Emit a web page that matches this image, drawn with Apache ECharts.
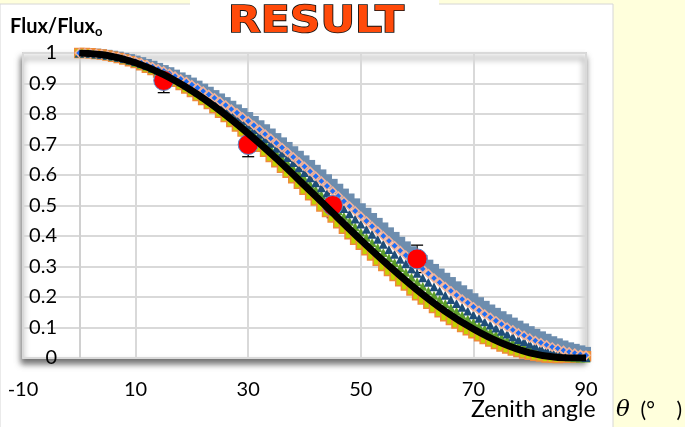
<!DOCTYPE html>
<html><head><meta charset="utf-8">
<script src="https://cdn.jsdelivr.net/npm/echarts@6/dist/echarts.min.js"></script>
<style>html,body{margin:0;padding:0;background:#FFFFDC;}#c{width:685px;height:427px;}</style>
</head><body><div id="c"></div>
<script>
const zenith = [0,1,2,3,4,5,6,7,8,9,10,11,12,13,14,15,16,17,18,19,20,21,22,23,24,25,26,27,28,29,30,31,32,33,34,35,36,37,38,39,40,41,42,43,44,45,46,47,48,49,50,51,52,53,54,55,56,57,58,59,60,61,62,63,64,65,66,67,68,69,70,71,72,73,74,75,76,77,78,79,80,81,82,83,84,85,86,87,88,89,90];
const modelGray = [1.000,1.000,0.999,0.998,0.996,0.994,0.991,0.988,0.984,0.980,
0.975,0.970,0.964,0.958,0.951,0.944,0.937,0.929,0.920,0.912,
0.903,0.893,0.883,0.873,0.862,0.851,0.839,0.827,0.815,0.803,
0.790,0.777,0.763,0.750,0.736,0.721,0.707,0.692,0.678,0.663,
0.648,0.633,0.617,0.602,0.586,0.571,0.555,0.539,0.523,0.507,
0.491,0.476,0.459,0.443,0.428,0.412,0.397,0.381,0.366,0.350,
0.336,0.321,0.306,0.292,0.277,0.263,0.249,0.235,0.222,0.209,
0.196,0.183,0.171,0.159,0.148,0.137,0.127,0.116,0.106,0.097,
0.088,0.079,0.071,0.063,0.055,0.048,0.041,0.035,0.030,0.025,0.020];
const modelBlue = [1.000,1.000,0.999,0.998,0.996,0.993,0.990,0.987,0.983,0.978,
0.973,0.968,0.962,0.955,0.948,0.941,0.933,0.924,0.915,0.906,
0.896,0.886,0.875,0.864,0.853,0.841,0.829,0.816,0.804,0.790,
0.777,0.763,0.749,0.734,0.720,0.705,0.690,0.674,0.659,0.643,
0.628,0.612,0.596,0.580,0.564,0.547,0.531,0.514,0.498,0.482,
0.465,0.449,0.432,0.416,0.400,0.384,0.368,0.352,0.337,0.322,
0.306,0.292,0.277,0.262,0.248,0.234,0.220,0.206,0.193,0.181,
0.168,0.156,0.144,0.133,0.122,0.111,0.101,0.092,0.082,0.074,
0.065,0.057,0.050,0.043,0.036,0.031,0.025,0.020,0.016,0.012,0.009];
const modelNavy = [1.000,1.000,0.999,0.997,0.995,0.993,0.990,0.986,0.982,0.977,
0.972,0.966,0.959,0.952,0.945,0.937,0.928,0.919,0.910,0.900,
0.890,0.879,0.868,0.856,0.844,0.832,0.819,0.806,0.792,0.778,
0.764,0.749,0.734,0.719,0.704,0.688,0.672,0.657,0.641,0.624,
0.608,0.591,0.575,0.558,0.541,0.524,0.507,0.490,0.473,0.456,
0.439,0.422,0.406,0.389,0.373,0.356,0.340,0.324,0.309,0.293,
0.278,0.263,0.248,0.234,0.220,0.206,0.192,0.179,0.166,0.154,
0.142,0.130,0.119,0.108,0.098,0.088,0.079,0.070,0.061,0.054,
0.046,0.039,0.033,0.027,0.022,0.017,0.013,0.010,0.007,0.004,0.002];
const modelGreen = [1.000,1.000,0.999,0.997,0.995,0.992,0.989,0.985,0.981,0.976,
0.970,0.964,0.957,0.949,0.942,0.933,0.924,0.915,0.905,0.894,
0.883,0.872,0.860,0.847,0.835,0.821,0.808,0.794,0.780,0.765,
0.750,0.735,0.719,0.703,0.687,0.671,0.655,0.638,0.621,0.604,
0.587,0.570,0.552,0.535,0.517,0.500,0.483,0.465,0.448,0.430,
0.413,0.396,0.379,0.362,0.346,0.329,0.313,0.297,0.281,0.265,
0.250,0.235,0.220,0.206,0.192,0.179,0.165,0.153,0.140,0.128,
0.117,0.106,0.096,0.086,0.076,0.067,0.059,0.051,0.043,0.036,
0.030,0.025,0.019,0.015,0.011,0.008,0.005,0.003,0.001,0.000,0.000];
const modelYellow = [1.000,1.000,0.999,0.997,0.995,0.992,0.988,0.984,0.979,0.973,
0.967,0.960,0.952,0.944,0.936,0.926,0.917,0.906,0.895,0.884,
0.872,0.859,0.846,0.833,0.819,0.804,0.790,0.774,0.759,0.743,
0.727,0.710,0.693,0.676,0.659,0.642,0.624,0.607,0.589,0.571,
0.552,0.534,0.516,0.497,0.479,0.461,0.442,0.424,0.406,0.388,
0.371,0.353,0.336,0.319,0.302,0.285,0.269,0.252,0.238,0.221,
0.206,0.192,0.178,0.164,0.150,0.137,0.125,0.113,0.102,0.091,
0.081,0.071,0.062,0.054,0.046,0.038,0.031,0.025,0.020,0.015,
0.011,0.007,0.005,0.002,0.001,0.000,0.001,0.001,0.002,0.004,0.006];
const curveAngles = [0,5,10,15,20,25,30,35,40,45,50,55,60,65,70,75,80,85,90];
const curveFlux = [1.0,0.992,0.968,0.929,0.876,0.811,0.736,0.654,0.566,0.476,0.387,0.302,0.223,0.153,0.095,0.049,0.017,0.002,0.0];
const measAngles = [15,30,45,60];
const measFlux = [0.91,0.70,0.50,0.325];
const measErr = [0.04,0.04,0.04,0.045];

const pair = (xs, ys) => xs.map((x, i) => [x, ys[i]]);
const LBL = 'Lato, "Liberation Sans", sans-serif';

const chart = echarts.init(document.getElementById('c'), null, {renderer: 'canvas'});
function marker(name, data, symbol, size, color, border, bw) {
  return {type: 'scatter', name, z: 3, data: pair(zenith, data), symbol, symbolSize: size, silent: true, clip: false,
    itemStyle: {color, borderColor: border || color, borderWidth: bw || 0, opacity: 1}};
}
const grayS = marker('gray', modelGray, 'rect', 10, '#6D8DAE');
grayS.markLine = {silent: true, symbol: 'none', label: {show: false}, z: 1,
  lineStyle: {color: '#d0d0d0', width: 2, type: 'solid'}, data: [{xAxis: 0}]};
chart.setOption({
  backgroundColor: '#FFFFDC',
  animation: false,
  graphic: [
    {type: 'rect', z: -10, shape: {x: 0, y: 4, width: 613, height: 430}, style: {fill: '#fff', stroke: '#d6d6d6', lineWidth: 1}},
    {type: 'rect', z: -9, shape: {x: 190, y: 0, width: 249, height: 6}, style: {fill: '#fff'}},
    {type: 'text', z: 10, x: 316, y: 22, scaleX: 1.12, scaleY: 1.0,
      style: {x: 0, y: 0, text: 'RESULT', font: 'bold 38px "DejaVu Sans"', fill: '#FF4A0A', stroke: '#111', lineWidth: 1.6, align: 'center', verticalAlign: 'middle'}},
    {type: 'text', z: 10, style: {x: 10, y: 27, text: '{a|Flux/Flux}{b|o}', verticalAlign: 'middle',
      rich: {a: {font: 'bold 20px ' + LBL, fill: '#000'}, b: {font: 'bold 13px ' + LBL, fill: '#000', padding: [9, 0, 0, 0]}}}},
    {type: 'text', z: 10, style: {x: 471, y: 410, text: 'Zenith angle', font: '23px ' + LBL, fill: '#000', verticalAlign: 'middle'}},
    {type: 'text', z: 10, style: {x: 616, y: 410, text: '{t|θ}{n|  (°    )}', verticalAlign: 'middle',
      rich: {t: {font: 'italic 23px "DejaVu Serif"', fill: '#000'}, n: {font: '21px ' + LBL, fill: '#000'}}}}
  ],
  grid: {left: 23, top: 53, width: 563, height: 305, containLabel: false, outerBoundsMode: 'none',
    show: true, backgroundColor: '#fff', borderColor: '#d4d4d4', borderWidth: 2,
    shadowColor: 'rgba(0,0,0,0.55)', shadowBlur: 6, shadowOffsetX: -1, shadowOffsetY: 5},
  xAxis: {type: 'value', min: -10, max: 90, interval: 20,
    axisLine: {show: false, onZero: false}, axisTick: {show: false},
    axisLabel: {margin: 22, fontSize: 20, color: '#000', fontFamily: LBL},
    splitLine: {show: true, lineStyle: {color: '#d9d9d9', width: 2}}},
  yAxis: {type: 'value', min: 0, max: 1, interval: 0.1,
    axisLine: {show: false, onZero: false}, axisTick: {show: false},
    axisLabel: {margin: -34, fontSize: 20, color: '#000', fontFamily: LBL},
    splitLine: {show: true, lineStyle: {color: '#d9d9d9', width: 2}}},
  series: [
    {type: 'custom', name: 'err', z: 2, silent: true,
      data: measAngles.map((a, i) => [a, measFlux[i], measErr[i]]),
      renderItem: function (params, api) {
        const x = api.value(0), y = api.value(1), e = api.value(2);
        const t = api.coord([x, y + e]), b = api.coord([x, y - e]);
        const hw = 6, st = {stroke: '#000', lineWidth: 1.3};
        return {type: 'group', children: [
          {type: 'line', shape: {x1: t[0], y1: t[1], x2: b[0], y2: b[1]}, style: st},
          {type: 'line', shape: {x1: t[0] - hw, y1: t[1], x2: t[0] + hw, y2: t[1]}, style: st},
          {type: 'line', shape: {x1: b[0] - hw, y1: b[1], x2: b[0] + hw, y2: b[1]}, style: st}
        ]};
      }},
    grayS,
    marker('yellow', modelYellow, 'rect', 9, '#C3D200', '#EE8A3A', 1.5),
    marker('green', modelGreen, 'triangle', 9, '#5E9E2A'),
    marker('navy', modelNavy, 'triangle', 9, '#1F4E79'),
    marker('blue', modelBlue, 'diamond', 8, '#1E6EF5', '#F2B39A', 1.6),
    {type: 'scatter', name: 'meas', z: 5, data: pair(measAngles, measFlux), symbol: 'circle', symbolSize: 20, silent: true,
      itemStyle: {color: '#FF0000', borderColor: '#5B88C8', borderWidth: 1, opacity: 1}},
    {type: 'line', name: 'model', z: 6, data: pair(curveAngles, curveFlux), smooth: 0.3, showSymbol: false, silent: true,
      lineStyle: {color: '#000', width: 7, cap: 'butt'}}
  ]
});
</script></body></html>
